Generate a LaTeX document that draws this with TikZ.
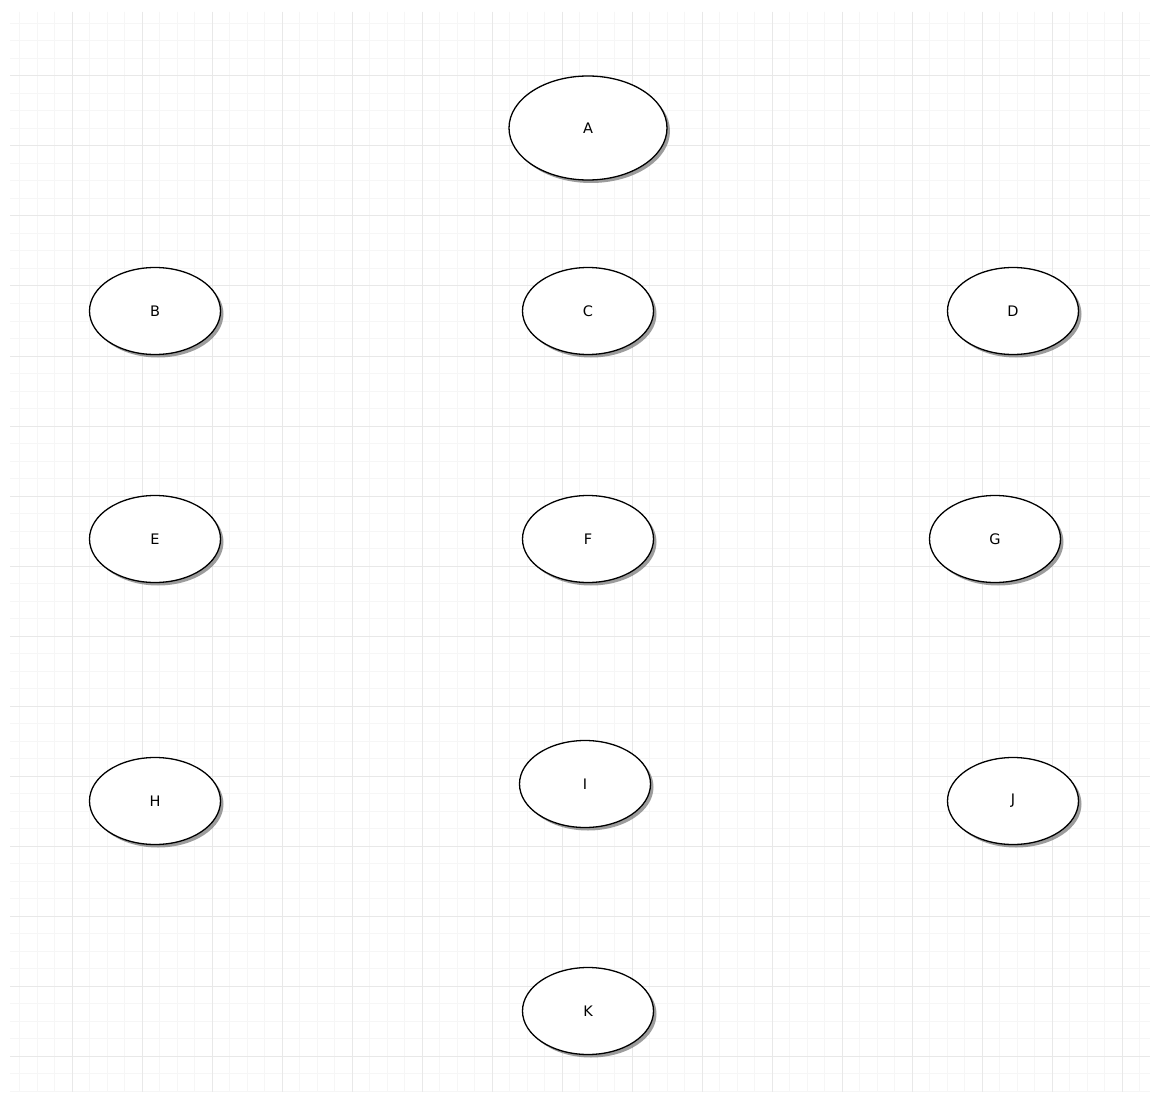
\documentclass[tikz,border=0pt]{standalone}
\usepackage{fontspec}
\setmainfont{DejaVu Sans}
\usetikzlibrary{shapes.geometric,shadows}
\begin{document}
\begin{tikzpicture}[x=1pt,y=-1pt,
  oval/.style={ellipse,draw=black,line width=1.3pt,fill=white,inner sep=0pt,
    minimum width=131pt,minimum height=87pt,font=\fontsize{14.5}{16}\selectfont,
    drop shadow={shadow xshift=3pt,shadow yshift=-3pt,fill=black!55,opacity=0.7}},
  big/.style={minimum width=158pt,minimum height=104pt},
  minorline/.style={draw=black!3.5,line width=1pt},
  majorline/.style={draw=black!9,line width=1pt}]
\useasboundingbox (0,0) rectangle (1152,1102);
\fill[white] (0,0) rectangle (1152,1102);
\begin{scope}
\clip (10,12) rectangle (1150,1092);
\foreach \i in {0,...,66} {
  \draw[minorline] ({2+17.5*\i},12) -- ({2+17.5*\i},1092);
  \draw[minorline] (10,{6+17.5*\i}) -- (1150,{6+17.5*\i});
}
\foreach \i in {0,...,16} {
  \draw[majorline] ({2+70*\i},12) -- ({2+70*\i},1092);
  \draw[majorline] (10,{6+70*\i}) -- (1150,{6+70*\i});
}
\end{scope}
\node[oval,big] (A) at (588,128) {A};
\node[oval] (B) at (155,311) {B};
\node[oval] (C) at (588,311) {C};
\node[oval] (D) at (1013,311) {D};
\node[oval] (E) at (155,539) {E};
\node[oval] (F) at (588,539) {F};
\node[oval] (G) at (995,539) {G};
\node[oval] (H) at (155,801) {H};
\node[oval] (I) at (585,784) {I};
\node[oval] (J) at (1013,801) {J};
\node[oval] (K) at (588,1011) {K};
\end{tikzpicture}
\end{document}
